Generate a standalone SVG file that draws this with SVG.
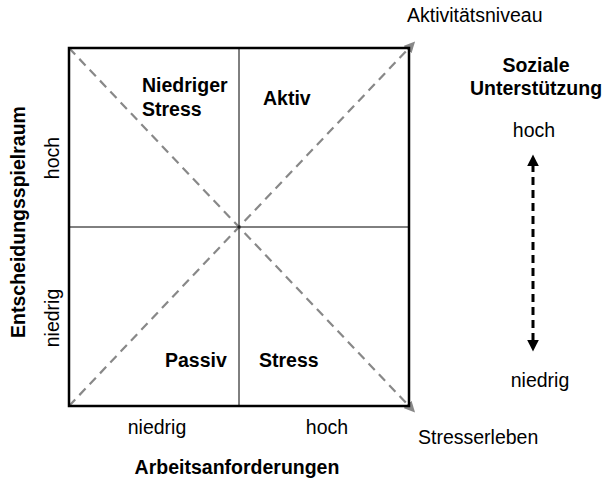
<svg xmlns="http://www.w3.org/2000/svg" width="604" height="480" viewBox="0 0 604 480">
  <style>
    text { font-family: "Liberation Sans", Arial, sans-serif; font-size: 19.5px; fill: #000; }
    .b { font-weight: bold; }
    .diag { stroke: #888; stroke-width: 2.2; stroke-dasharray: 9 6; fill: none; }
    .frame { stroke: #000; stroke-width: 2.5; fill: none; }
    .mid { stroke: #000; stroke-width: 1; }
    .sup { stroke: #000; stroke-width: 3; stroke-dasharray: 8 5; }
  </style>
  <defs>
    <marker id="grayHead" viewBox="0 0 10 10" refX="2" refY="5" markerWidth="5" markerHeight="5" orient="auto" markerUnits="strokeWidth">
      <path d="M0,0 L10,5 L0,10 Z" fill="#888"/>
    </marker>
    <marker id="blackHead" viewBox="0 0 10 10" refX="2" refY="5" markerWidth="4" markerHeight="4" orient="auto-start-reverse" markerUnits="strokeWidth">
      <path d="M0,0 L10,5 L0,10 Z" fill="#000"/>
    </marker>
  </defs>

  <g id="connectors">
    <line class="diag" x1="69" y1="406" x2="409" y2="48" marker-end="url(#grayHead)"/>
    <line class="diag" x1="69" y1="48" x2="409" y2="406" marker-end="url(#grayHead)"/>
    <line class="sup" x1="533" y1="164" x2="533" y2="342" marker-start="url(#blackHead)" marker-end="url(#blackHead)"/>
  </g>

  <g id="matrix">
    <line class="mid" x1="239" y1="48" x2="239" y2="406"/>
    <line class="mid" x1="69" y1="227" x2="409" y2="227"/>
    <rect class="frame" x="69" y="48" width="340" height="358"/>
  </g>

  <g id="quadrant-low-stress">
    <text class="b" x="142" y="92">Niedriger</text>
    <text class="b" x="142" y="116">Stress</text>
  </g>
  <g id="quadrant-active">
    <text class="b" x="263" y="105">Aktiv</text>
  </g>
  <g id="quadrant-passive">
    <text class="b" x="165" y="367">Passiv</text>
  </g>
  <g id="quadrant-stress">
    <text class="b" x="259" y="367">Stress</text>
  </g>

  <g id="axis-x">
    <text x="157" y="434" text-anchor="middle">niedrig</text>
    <text x="327" y="434" text-anchor="middle">hoch</text>
    <text class="b" x="237" y="474" text-anchor="middle">Arbeitsanforderungen</text>
  </g>

  <g id="axis-y">
    <text class="b" transform="translate(25,222) rotate(-90)" text-anchor="middle">Entscheidungsspielraum</text>
    <text transform="translate(59,158) rotate(-90)" text-anchor="middle">hoch</text>
    <text transform="translate(59,318) rotate(-90)" text-anchor="middle">niedrig</text>
  </g>

  <g id="diagonal-labels">
    <text x="407" y="22">Aktivitätsniveau</text>
    <text x="418" y="444">Stresserleben</text>
  </g>

  <g id="social-support">
    <text class="b" x="536" y="72" text-anchor="middle">Soziale</text>
    <text class="b" x="536" y="95" text-anchor="middle">Unterstützung</text>
    <text x="534" y="137" text-anchor="middle">hoch</text>
    <text x="540" y="387" text-anchor="middle">niedrig</text>
  </g>
</svg>
